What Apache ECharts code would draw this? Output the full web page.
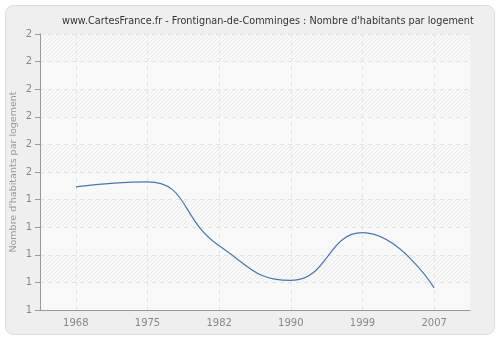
<!DOCTYPE html>
<html><head><meta charset="utf-8">
<script src="https://cdn.jsdelivr.net/npm/echarts@6/dist/echarts.min.js"></script>
<style>html,body{margin:0;padding:0;background:#fff}#c{width:500px;height:340px}</style>
</head><body><div id="c"></div>
<script>
var years = ['1968','1975','1982','1990','1999','2007'];
var values = [1.446, 1.464, 1.233, 1.107, 1.28, 1.08];

var pc = document.createElement('canvas');
pc.width = 4; pc.height = 4;
var g = pc.getContext('2d');
g.fillStyle = '#f9f9f9'; g.fillRect(0,0,4,4);
g.fillStyle = '#ebebeb';
for (var i = 0; i < 4; i++) { g.fillRect(i, 3 - i, 1, 1); }

var chart = echarts.init(document.getElementById('c'), null, {renderer: 'canvas'});
chart.setOption({
  animation: false,
  backgroundColor: '#fff',
  graphic: [{
    type: 'rect', z: -10, silent: true,
    shape: {x: 5.5, y: 5.5, width: 489, height: 329, r: 8},
    style: {fill: '#efefef', stroke: '#dcdcdc', lineWidth: 1}
  }],
  title: {
    text: "www.CartesFrance.fr - Frontignan-de-Comminges : Nombre d'habitants par logement",
    left: 57, top: 11,
    textStyle: {fontFamily: 'DejaVu Sans', fontSize: 9.7, fontWeight: 'normal', color: '#333'}
  },
  grid: {left: 40, right: 30, top: 34, bottom: 30, show: true, outerBoundsMode: 'none', containLabel: false,
    backgroundColor: {image: pc, repeat: 'repeat'}, borderWidth: 0},
  xAxis: {
    type: 'category', data: years, boundaryGap: true,
    axisLine: {lineStyle: {color: '#999'}},
    axisTick: {alignWithLabel: true, length: 5, lineStyle: {color: '#999'}},
    axisLabel: {color: '#888', fontFamily: 'DejaVu Sans', fontSize: 10, margin: 8},
    splitLine: {show: true, alignWithLabel: true, lineStyle: {color: '#e2e2e2', type: [4, 4]}}
  },
  yAxis: {
    type: 'value', min: 1, max: 2, interval: 0.1,
    name: "Nombre d'habitants par logement", nameLocation: 'middle', nameGap: 21, nameMoveOverlap: false,
    nameTextStyle: {color: '#999', fontFamily: 'DejaVu Sans', fontSize: 9.5},
    axisLine: {show: true, lineStyle: {color: '#999'}},
    axisTick: {show: true, length: 5, lineStyle: {color: '#999'}},
    axisLabel: {color: '#888', fontFamily: 'DejaVu Sans', fontSize: 10, margin: 8,
      formatter: function (v) { return String(Math.round(v + 1e-9)); }},
    splitLine: {show: true, lineStyle: {color: '#e2e2e2', type: [4, 4]}},
    splitArea: {show: true, areaStyle: {color: ['rgba(250,250,250,0.6)', 'rgba(255,255,255,0)']}}
  },
  series: [{
    type: 'line', data: values, smooth: 0.5, symbol: 'none',
    lineStyle: {color: '#4a78ad', width: 1.2}
  }]
});
</script></body></html>
